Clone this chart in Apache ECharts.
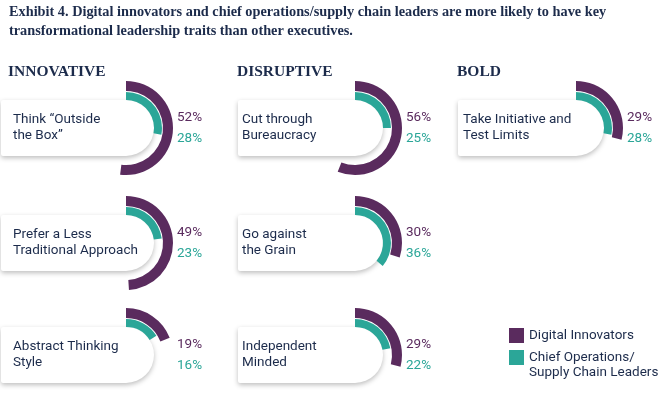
<!DOCTYPE html>
<html>
<head>
<meta charset="utf-8">
<script src="https://cdn.jsdelivr.net/npm/echarts@6/dist/echarts.min.js"></script>
<style>
  html, body { margin: 0; padding: 0; background: #fff; }
  #chart { width: 672px; height: 396px; }
</style>
</head>
<body>
<div id="chart"></div>
<script>
var titleLines = [
  'Exhibit 4. Digital innovators and chief operations/supply chain leaders are more likely to have key',
  'transformational leadership traits than other executives.'
];
var groups = ['INNOVATIVE', 'DISRUPTIVE', 'BOLD'];
var traits = [
  'Think “Outside\nthe Box”',
  'Prefer a Less\nTraditional Approach',
  'Abstract Thinking\nStyle',
  'Cut through\nBureaucracy',
  'Go against\nthe Grain',
  'Independent\nMinded',
  'Take Initiative and\nTest Limits'
];
var digitalInnovators = [52, 49, 19, 56, 30, 29, 29];
var chiefOps = [28, 23, 16, 25, 36, 22, 28];
var seriesNames = ['Digital Innovators', 'Chief Operations/\nSupply Chain Leaders'];

// layout
var traitGroup = [0, 0, 0, 1, 1, 1, 2];
var traitRow = [0, 1, 2, 0, 1, 2, 0];
var colCenterX = [126, 355, 576];
var colLeftX = [1, 238, 458];
var colTextX = [13, 242, 463];
var headerX = [8, 237, 457];
var rowCenterY = [128, 243, 355];

var PURPLE = '#5a2b5e';
var TEAL = '#2ba698';
var NAVY = '#1c2b4b';
var SANS = 'Roboto, "Noto Sans", sans-serif';
var SERIF = '"Liberation Serif", "DejaVu Serif", serif';

var chart = echarts.init(document.getElementById('chart'));

var graphics = [];
var series = [];

titleLines.forEach(function (t, i) {
  graphics.push({
    type: 'text', x: 9, y: 12 + i * 19.5, z: 5,
    style: { text: t, font: 'bold 14.3px ' + SERIF, fill: NAVY, verticalAlign: 'middle' }
  });
});

groups.forEach(function (g, i) {
  graphics.push({
    type: 'text', x: headerX[i], y: 72, z: 5,
    style: { text: g, font: 'bold 15.5px ' + SERIF, fill: NAVY, verticalAlign: 'middle' }
  });
});

function ring(cx, cy, r, w, val, color) {
  return {
    type: 'gauge',
    center: [cx, cy],
    radius: r,
    startAngle: 90,
    endAngle: -270,
    min: 0,
    max: 100,
    z: 3,
    silent: true,
    animation: false,
    pointer: { show: false },
    axisLine: { show: false },
    axisTick: { show: false },
    splitLine: { show: false },
    axisLabel: { show: false },
    title: { show: false },
    detail: { show: false },
    progress: { show: true, width: w, itemStyle: { color: color } },
    data: [{ value: val }]
  };
}

traits.forEach(function (label, i) {
  var g = traitGroup[i];
  var cx = colCenterX[g];
  var cy = rowCenterY[traitRow[i]];
  var left = colLeftX[g];
  // white pill behind the label
  graphics.push({
    type: 'rect', z: 1,
    shape: { x: left, y: cy - 28, width: cx + 28 - left, height: 56, r: [2, 28, 28, 2] },
    style: { fill: '#fff', shadowBlur: 5, shadowOffsetY: 2, shadowOffsetX: 0, shadowColor: 'rgba(0,0,0,0.26)' }
  });
  graphics.push({
    type: 'text', z: 5, x: colTextX[g], y: cy,
    style: { text: label, font: '13.5px ' + SANS, fill: NAVY, lineHeight: 16, verticalAlign: 'middle' }
  });
  graphics.push({
    type: 'text', z: 5, x: cx + 51, y: cy - 10,
    style: { text: digitalInnovators[i] + '%', font: '13.5px ' + SANS, fill: PURPLE, verticalAlign: 'middle' }
  });
  graphics.push({
    type: 'text', z: 5, x: cx + 51, y: cy + 11,
    style: { text: chiefOps[i] + '%', font: '13.5px ' + SANS, fill: TEAL, verticalAlign: 'middle' }
  });
  series.push(ring(cx, cy, 47, 10, digitalInnovators[i], PURPLE));
  series.push(ring(cx, cy, 36, 8, chiefOps[i], TEAL));
});

// legend
[PURPLE, TEAL].forEach(function (c, i) {
  graphics.push({
    type: 'rect', z: 5,
    shape: { x: 509, y: 328 + i * 22, width: 15, height: 15 },
    style: { fill: c }
  });
  graphics.push({
    type: 'text', z: 5, x: 529, y: 328 + i * 22,
    style: { text: seriesNames[i], font: '13.5px ' + SANS, fill: NAVY, lineHeight: 15, verticalAlign: 'top' }
  });
});

chart.setOption({
  backgroundColor: '#fff',
  animation: false,
  graphic: { elements: graphics },
  series: series
});
</script>
</body>
</html>
